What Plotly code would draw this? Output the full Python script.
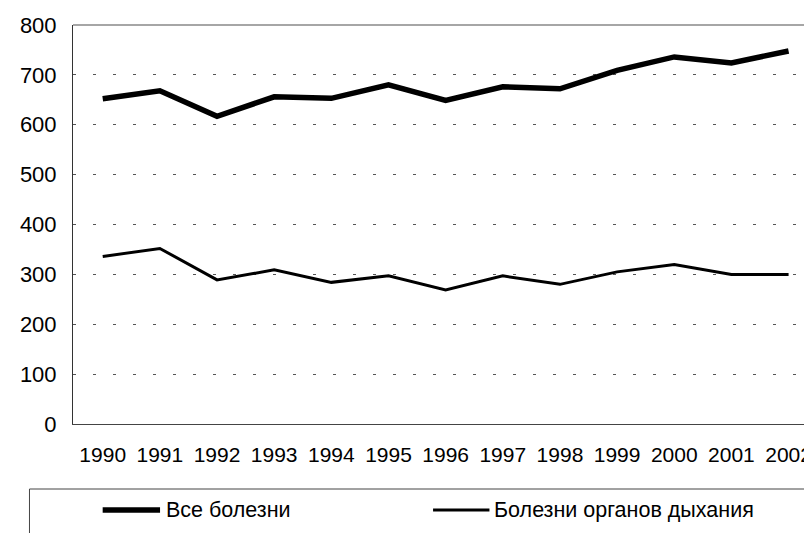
import plotly.graph_objects as go

years = ["1990", "1991", "1992", "1993", "1994", "1995", "1996",
         "1997", "1998", "1999", "2000", "2001", "2002"]
all_diseases = [652, 668, 617, 656, 653, 680, 649, 676, 672, 709, 736, 724, 748]
respiratory = [336, 352, 289, 309, 284, 297, 269, 297, 280, 305, 320, 300, 300]
series_names = ["Все болезни", "Болезни органов дыхания"]
y_ticks = [0, 100, 200, 300, 400, 500, 600, 700, 800]

OFF = 8  # page body margin
W, H = 812 - OFF, 533 - OFF
L, T, R, B = 73, 25, 812, 424  # target page pixels
pw, ph = R - L, B - T


def px(x):
    return (x - L) / pw


def py(y):
    return (B - y) / ph


FONT = "Liberation Sans, Arial, sans-serif"

fig = go.Figure()
fig.add_trace(go.Scatter(x=years, y=all_diseases, mode="lines", name=series_names[0],
                         line=dict(color="black", width=5.5), showlegend=False))
fig.add_trace(go.Scatter(x=years, y=respiratory, mode="lines", name=series_names[1],
                         line=dict(color="black", width=3), showlegend=False))

fig.update_layout(
    width=W, height=H,
    margin=dict(l=L - OFF, r=0, t=T - OFF, b=(H + OFF) - B, pad=0),
    paper_bgcolor="white", plot_bgcolor="white",
    font=dict(family=FONT, size=21, color="black"),
    xaxis=dict(type="category", range=[-0.52, 12.27], showgrid=False,
               showline=True, linecolor="#444", linewidth=1, ticks="",
               tickfont=dict(size=21), ticklabelstandoff=12, zeroline=False),
    yaxis=dict(range=[0, 800], tickvals=y_ticks, showgrid=True,
               gridcolor="#555", gridwidth=1, griddash="3px,17px",
               showline=True, linecolor="#333", linewidth=1, ticks="",
               tickfont=dict(size=22), ticklabelstandoff=11, zeroline=False),
)

# top border of plot area
fig.add_shape(type="line", xref="paper", yref="paper", x0=0, x1=1.02, y0=1, y1=1,
              line=dict(color="#888", width=1.5))

# legend box (manual)
fig.add_shape(type="rect", xref="paper", yref="paper",
              x0=px(29), x1=px(830), y0=py(489), y1=py(560),
              line=dict(color="#444", width=1), fillcolor="rgba(0,0,0,0)")
fig.add_shape(type="line", xref="paper", yref="paper",
              x0=px(103), x1=px(161), y0=py(510), y1=py(510),
              line=dict(color="black", width=5.5))
fig.add_shape(type="line", xref="paper", yref="paper",
              x0=px(437), x1=px(494), y0=py(510), y1=py(510),
              line=dict(color="black", width=3))
fig.add_annotation(text=series_names[0], xref="paper", yref="paper",
                   x=px(165), y=py(510), xanchor="left", yanchor="middle",
                   showarrow=False, font=dict(size=21.5, family=FONT))
fig.add_annotation(text=series_names[1], xref="paper", yref="paper",
                   x=px(497), y=py(510), xanchor="left", yanchor="middle",
                   showarrow=False, font=dict(size=21.5, family=FONT))

fig.write_html("out.html")
